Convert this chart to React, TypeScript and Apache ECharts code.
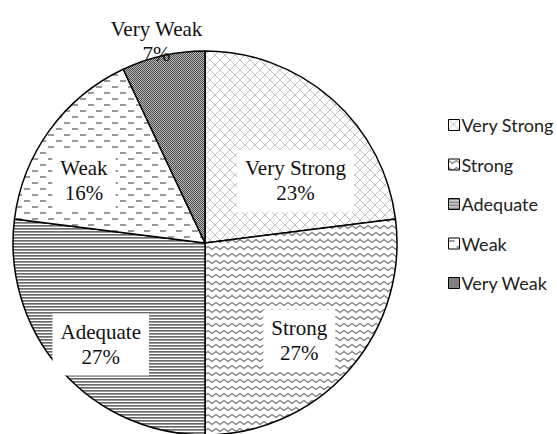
import { useEffect, useRef } from "react";
import * as echarts from "echarts";

const categories = ["Very Strong", "Strong", "Adequate", "Weak", "Very Weak"];
const shares = [23, 27, 27, 16, 7];

// label nudges (dx, dy) from the default inside position
const labelOffsets: number[][] = [
  [25, 12],
  [20, 32],
  [-30, 36],
  [-41, -4],
  [-27, -105],
];

function makeCanvas(w: number, h: number, draw: (ctx: CanvasRenderingContext2D) => void) {
  const c = document.createElement("canvas");
  c.width = w;
  c.height = h;
  const ctx = c.getContext("2d")!;
  ctx.fillStyle = "#fff";
  ctx.fillRect(0, 0, w, h);
  draw(ctx);
  return c;
}

function buildPatterns() {
  const cross = makeCanvas(10, 10, (ctx) => {
    ctx.strokeStyle = "#c2c2c2";
    ctx.lineWidth = 1;
    ctx.beginPath();
    for (const k of [-10, 0, 10]) {
      ctx.moveTo(k, 0);
      ctx.lineTo(k + 10, 10);
      ctx.moveTo(k + 10, 0);
      ctx.lineTo(k, 10);
    }
    ctx.stroke();
  });
  const zigzag = makeCanvas(8, 7, (ctx) => {
    ctx.strokeStyle = "#7a7a7a";
    ctx.lineWidth = 1.2;
    ctx.beginPath();
    ctx.moveTo(-4, 4.5);
    ctx.lineTo(0, 1.5);
    ctx.lineTo(4, 4.5);
    ctx.lineTo(8, 1.5);
    ctx.lineTo(12, 4.5);
    ctx.stroke();
  });
  const hlines = makeCanvas(4, 3, (ctx) => {
    ctx.fillStyle = "#6a6a6a";
    ctx.fillRect(0, 0, 4, 1);
    ctx.fillStyle = "#9a9a9a";
    ctx.fillRect(0, 1, 4, 1);
  });
  const dashes = makeCanvas(16, 12, (ctx) => {
    ctx.fillStyle = "#999";
    ctx.fillRect(0, 2, 6, 2);
    ctx.fillRect(8, 8, 6, 2);
  });
  const dots = makeCanvas(2, 2, (ctx) => {
    ctx.fillStyle = "#4a4a4a";
    ctx.fillRect(0, 0, 1, 1);
    ctx.fillRect(1, 1, 1, 1);
    ctx.fillStyle = "#bbbbbb";
    ctx.fillRect(1, 0, 1, 1);
    ctx.fillRect(0, 1, 1, 1);
  });
  return [cross, zigzag, hlines, dashes, dots].map((image) => ({
    image,
    repeat: "repeat",
  }));
}

export default function App() {
  const ref = useRef<HTMLDivElement>(null);
  useEffect(() => {
    if (!ref.current) return;
    const chart = echarts.init(ref.current, undefined, { renderer: "svg" });
    const patterns = buildPatterns();
    const data = categories.map((name, i) => ({
      name,
      value: shares[i],
      itemStyle: { color: patterns[i] as any },
      label:
        i === 4
          ? { backgroundColor: "transparent", padding: 0 }
          : undefined,
    }));
    chart.setOption({
      animation: false,
      backgroundColor: "#fff",
      legend: {
        orient: "vertical",
        left: 443,
        top: 110,
        icon: "rect",
        itemWidth: 11,
        itemHeight: 11,
        itemGap: 19.5,
        data: categories,
        itemStyle: { borderColor: "#000", borderWidth: 1 },
        textStyle: {
          fontFamily: "Lato",
          fontSize: 18,
          lineHeight: 20,
          color: "#222",
          padding: [0, 0, 0, -3],
        },
      },
      series: [
        {
          type: "pie",
          center: [205, 243],
          radius: 192,
          startAngle: 90,
          clockwise: true,
          avoidLabelOverlap: false,
          itemStyle: { borderColor: "#000", borderWidth: 1.5 },
          emphasis: { disabled: true },
          label: {
            show: true,
            position: "inside",
            formatter: (p: any) => `${p.name}\n${p.value}%`,
            fontFamily: "Liberation Serif",
            fontSize: 21,
            lineHeight: 25,
            color: "#111",
            backgroundColor: "#fff",
            padding: [6, 8],
          },
          labelLine: { show: false },
          labelLayout: (params: any) => {
            const o = labelOffsets[params.dataIndex] || [0, 0];
            return { dx: o[0], dy: o[1] };
          },
          data,
        },
      ],
    });
    return () => chart.dispose();
  }, []);
  return (
    <div
      ref={ref}
      style={{ position: "fixed", left: 0, top: 0, width: 557, height: 434 }}
    />
  );
}
